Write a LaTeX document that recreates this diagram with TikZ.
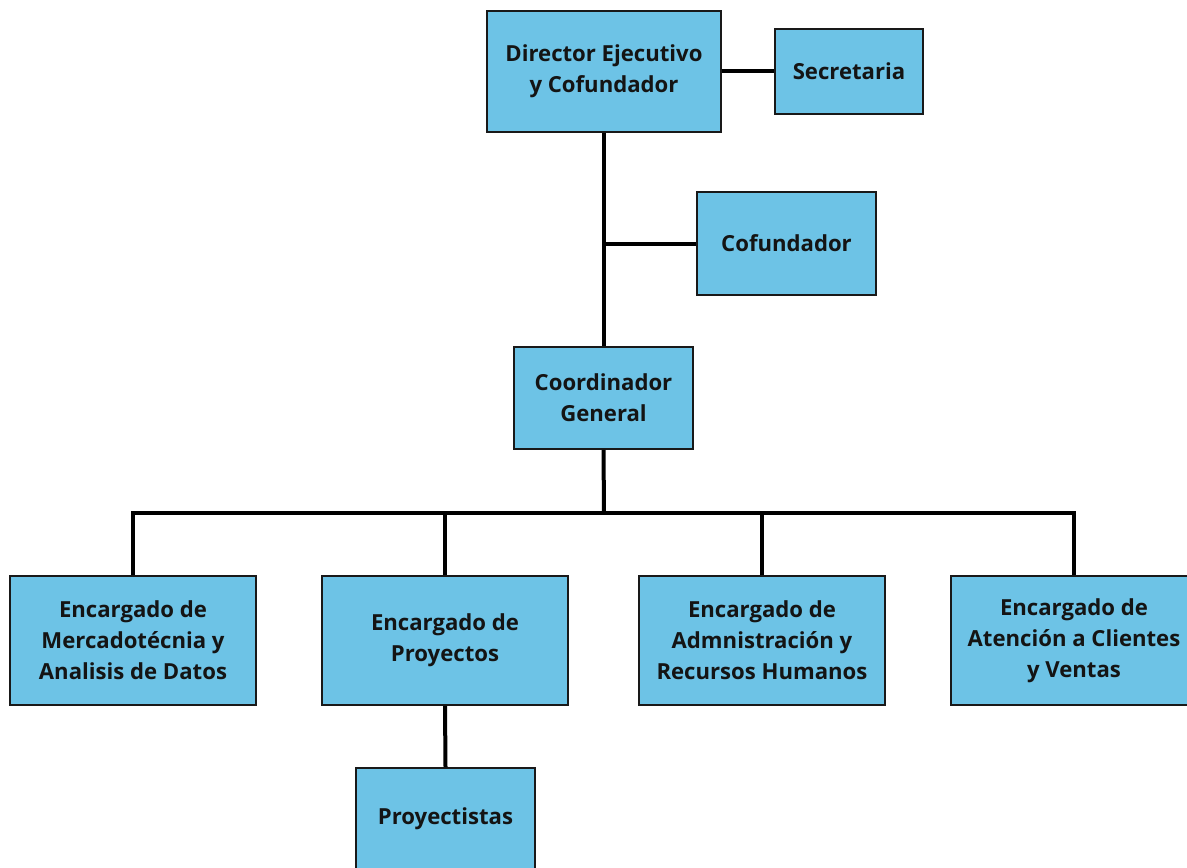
\documentclass[tikz,border=0pt]{standalone}
\usepackage{fontspec}
\setmainfont{Open Sans}
\begin{document}
\begin{tikzpicture}[x=0.75pt,y=-0.75pt,
  box/.style={draw=black!90,line width=1.4pt,fill=boxblue,align=center,
    font=\bfseries\fontsize{16.6}{23.2}\selectfont,text=black!92,inner sep=0pt},
  link/.style={line width=3pt,black}]
\definecolor{boxblue}{HTML}{6DC3E6}
\useasboundingbox (0,0) rectangle (1187,867);
\clip (0,0) rectangle (1187,867);
\node[box,minimum width={234*0.75pt},minimum height={121*0.75pt}] (dir) at (604,71.5) {\raisebox{-2pt}{Director Ejecutivo}\\\raisebox{-2pt}{y Cofundador}};
\node[box,minimum width={148*0.75pt},minimum height={85*0.75pt}] (sec) at (849,71.5) {Secretaria};
\node[box,minimum width={179*0.75pt},minimum height={103*0.75pt}] (cof) at (786.5,243.5) {Cofundador};
\node[box,minimum width={179*0.75pt},minimum height={102*0.75pt}] (coord) at (603.5,398) {Coordinador\\General};
\node[box,minimum width={246*0.75pt},minimum height={129*0.75pt}] (merc) at (133,640.5) {Encargado de\\Mercadotécnia y\\Analisis de Datos};
\node[box,minimum width={246*0.75pt},minimum height={129*0.75pt}] (proy) at (445,640.5) {Encargado de\\Proyectos};
\node[box,minimum width={246*0.75pt},minimum height={129*0.75pt}] (adm) at (762,640.5) {Encargado de\\Admnistración y\\Recursos Humanos};
\node[box,minimum width={246*0.75pt},minimum height={129*0.75pt}] (ate) at (1074,640.5) {Encargado de\\Atención a Clientes\\y Ventas};
\node[box,minimum width={179*0.75pt},minimum height={102*0.75pt}] (pro2) at (445.5,819) {Proyectistas};
\coordinate (bus) at (604,513);
% connectors
\draw[link] (dir.east) -- (sec.west);
\draw[link] (dir.south) -- (dir.south |- coord.north);
\draw[link] (dir.south |- cof.west) -- (cof.west);
\draw[link] (coord.south) -- (bus);
\draw[link,line cap=rect] (merc.north |- bus) -- (ate.north |- bus);
\foreach \n in {merc,proy,adm,ate}
  \draw[link] (\n.north |- bus) -- (\n.north);
\draw[link] (proy.south) -- (pro2.north);
\end{tikzpicture}
\end{document}
